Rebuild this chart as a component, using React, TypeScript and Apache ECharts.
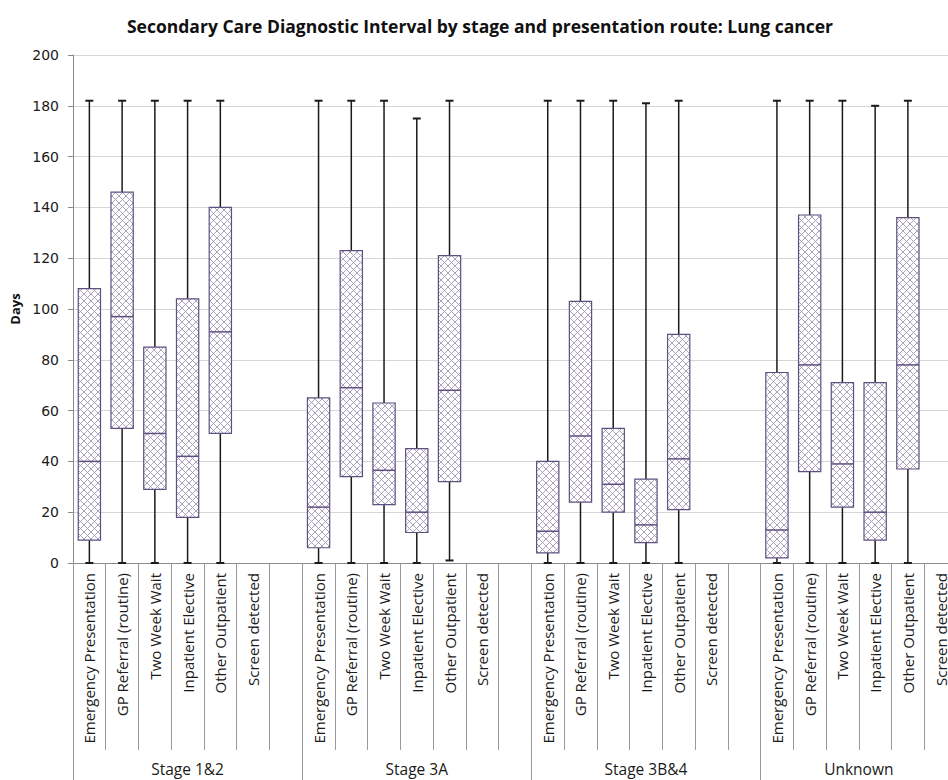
import React, { useEffect, useRef } from 'react';
import * as echarts from 'echarts';

const routes = [
  'Emergency Presentation',
  'GP Referral (routine)',
  'Two Week Wait',
  'Inpatient Elective',
  'Other Outpatient',
  'Screen detected',
];
const stages = ['Stage 1&2', 'Stage 3A', 'Stage 3B&4', 'Unknown'];
const yTicks = [0, 20, 40, 60, 80, 100, 120, 140, 160, 180, 200];

// [min, Q1, median, Q3, max] per route (Screen detected has no box)
const stage12 = [
  [0, 9, 40, 108, 182],
  [0, 53, 97, 146, 182],
  [0, 29, 51, 85, 182],
  [0, 18, 42, 104, 182],
  [0, 51, 91, 140, 182],
];
const stage3A = [
  [0, 6, 22, 65, 182],
  [0, 34, 69, 123, 182],
  [0, 23, 36.5, 63, 182],
  [0, 12, 20, 45, 175],
  [1, 32, 68, 121, 182],
];
const stage3B4 = [
  [0, 4, 12.5, 40, 182],
  [0, 24, 50, 103, 182],
  [0, 20, 31, 53, 182],
  [0, 8, 15, 33, 181],
  [0, 21, 41, 90, 182],
];
const stageUnknown = [
  [0, 2, 13, 75, 182],
  [0, 36, 78, 137, 182],
  [0, 22, 39, 71, 182],
  [0, 9, 20, 71, 180],
  [0, 37, 78, 136, 182],
];

const stageData = [stage12, stage3A, stage3B4, stageUnknown];

// Build slots: each stage has 6 routes, and a blank spacer slot (except last stage)
const slotLabels: string[] = [];
const boxData: number[][] = [];
const groupStart: number[] = [];
stages.forEach((_, s) => {
  groupStart.push(slotLabels.length);
  routes.forEach((r, ri) => {
    const idx = slotLabels.length;
    slotLabels.push(r);
    const d = stageData[s][ri];
    if (d) boxData.push([idx, ...d]);
  });
  if (s < stages.length - 1) slotLabels.push('');
});
const nSlots = slotLabels.length;
const groupCenters = stages.map((_, s) => {
  const start = groupStart[s];
  const end = s < stages.length - 1 ? groupStart[s + 1] : nSlots;
  return (start + end) / 2;
});

const hatchSvg =
  '<svg xmlns="http://www.w3.org/2000/svg" width="7" height="7">' +
  '<rect width="7" height="7" fill="#ffffff"/>' +
  '<path d="M-1,-1 L8,8 M8,-1 L-1,8" stroke="#9d94b2" stroke-width="0.85" fill="none"/></svg>';
const hatchUrl = 'data:image/svg+xml;charset=utf-8,' + encodeURIComponent(hatchSvg);

export default function App() {
  const ref = useRef<HTMLDivElement>(null);
  useEffect(() => {
    if (!ref.current) return;
    const chart = echarts.init(ref.current, null, { renderer: 'svg' });
    const pattern: any = { image: hatchUrl, repeat: 'repeat', imageWidth: 7, imageHeight: 7 };
    const boxColor = '#5e5080';
    const whisker = '#1a1a1a';
    chart.setOption({
      animation: false,
      backgroundColor: '#ffffff',
      title: {
        text: 'Secondary Care Diagnostic Interval by stage and presentation route: Lung cancer',
        left: 'center',
        top: 12,
        textStyle: { fontFamily: 'Open Sans', fontWeight: 'bold', fontSize: 17.5, color: '#111' },
      },
      grid: { left: 71.5, top: 55, width: 32.9 * nSlots, height: 508 },
      xAxis: [
        {
          type: 'category',
          data: slotLabels,
          position: 'bottom',
          axisLine: { show: true, lineStyle: { color: '#8a8a8a', width: 1 } },
          axisTick: { show: true, interval: 0, length: 187, lineStyle: { color: '#9a9a9a' } },
          axisLabel: {
            interval: 0,
            rotate: 90,
            margin: 10,
            fontFamily: 'Open Sans',
            fontSize: 15,
            color: '#1a1a1a',
          },
          splitLine: { show: false },
        },
        {
          type: 'category',
          data: slotLabels,
          position: 'bottom',
          axisLine: { show: false },
          axisTick: {
            show: true,
            interval: (i: number) => groupStart.indexOf(i) >= 0,
            length: 220,
            lineStyle: { color: '#9a9a9a' },
          },
          axisLabel: { show: false },
          splitLine: { show: false },
        },
        {
          type: 'value',
          min: 0,
          max: nSlots,
          interval: 0.5,
          position: 'bottom',
          axisLine: { show: false },
          axisTick: { show: false },
          splitLine: { show: false },
          axisLabel: {
            margin: 198,
            fontFamily: 'Open Sans',
            fontSize: 15.5,
            color: '#1a1a1a',
            showMinLabel: true,
            showMaxLabel: true,
            formatter: (v: number) => {
              const k = groupCenters.findIndex((c) => Math.abs(c - v) < 1e-6);
              return k >= 0 ? stages[k] : '';
            },
          },
        },
      ],
      yAxis: {
        type: 'value',
        min: yTicks[0],
        max: yTicks[yTicks.length - 1],
        interval: 20,
        name: 'Days',
        nameLocation: 'middle',
        nameRotate: 90,
        nameGap: 52,
        nameTextStyle: { fontFamily: 'Open Sans', fontWeight: 'bold', fontSize: 13, color: '#111' },
        axisLine: { show: true, lineStyle: { color: '#8a8a8a' } },
        axisTick: { show: true, length: 5, lineStyle: { color: '#8a8a8a' } },
        axisLabel: { fontFamily: 'DejaVu Sans', fontSize: 14, color: '#1a1a1a', margin: 14 },
        splitLine: { show: true, lineStyle: { color: '#d6d6d6', width: 1 } },
      },
      series: [
        {
          type: 'custom',
          xAxisIndex: 0,
          yAxisIndex: 0,
          data: boxData,
          encode: { x: 0, y: [1, 2, 3, 4, 5] },
          renderItem: (params: any, api: any) => {
            const x = api.value(0);
            const lo = api.coord([x, api.value(1)]);
            const q1 = api.coord([x, api.value(2)]);
            const md = api.coord([x, api.value(3)]);
            const q3 = api.coord([x, api.value(4)]);
            const hi = api.coord([x, api.value(5)]);
            const band = api.size([1, 0])[0];
            const bw = band * 0.68;
            const cx = lo[0];
            const cap = 4;
            return {
              type: 'group',
              children: [
                { type: 'line', shape: { x1: cx, y1: lo[1], x2: cx, y2: q1[1] }, style: { stroke: whisker, lineWidth: 1.5 } },
                { type: 'line', shape: { x1: cx, y1: q3[1], x2: cx, y2: hi[1] }, style: { stroke: whisker, lineWidth: 1.5 } },
                { type: 'line', shape: { x1: cx - cap, y1: hi[1], x2: cx + cap, y2: hi[1] }, style: { stroke: whisker, lineWidth: 2 } },
                { type: 'line', shape: { x1: cx - cap, y1: lo[1], x2: cx + cap, y2: lo[1] }, style: { stroke: whisker, lineWidth: 2 } },
                {
                  type: 'rect',
                  shape: { x: cx - bw / 2, y: q3[1], width: bw, height: q1[1] - q3[1] },
                  style: { fill: pattern, stroke: boxColor, lineWidth: 1.2 },
                },
                { type: 'line', shape: { x1: cx - bw / 2, y1: md[1], x2: cx + bw / 2, y2: md[1] }, style: { stroke: boxColor, lineWidth: 1.5 } },
              ],
            };
          },
        },
      ],
    });
    return () => chart.dispose();
  }, []);
  return (
    <div style={{ position: 'absolute', left: 0, top: 0, width: 948, height: 780, overflow: 'hidden' }}>
      <div ref={ref} style={{ width: 960, height: 780 }} />
    </div>
  );
}
